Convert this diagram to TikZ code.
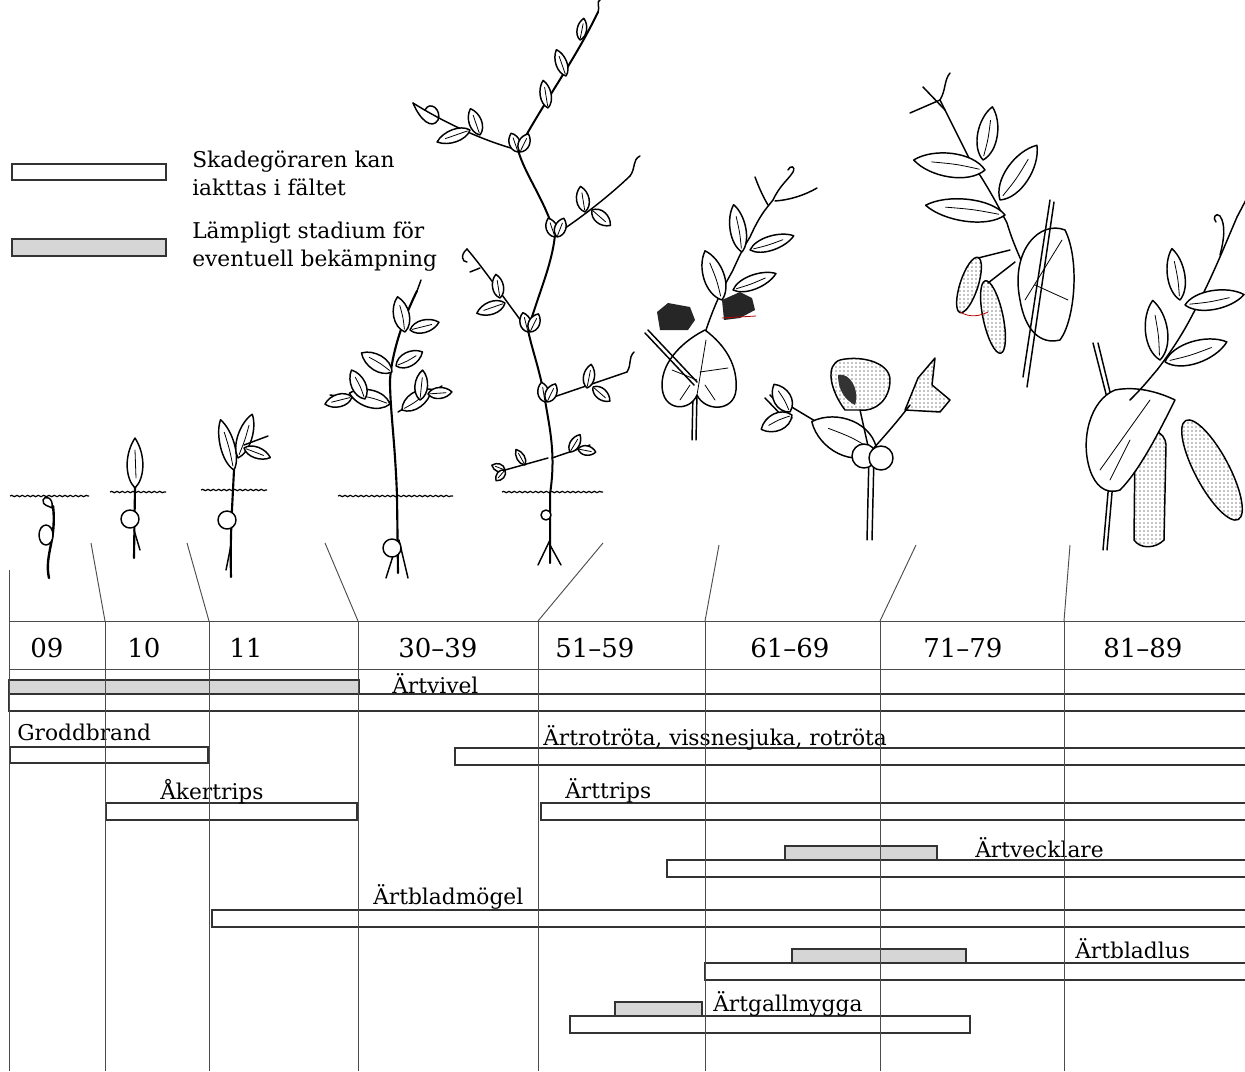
\documentclass[tikz,border=0pt]{standalone}
\usepackage{fontspec}
\setmainfont{DejaVu Serif}
\usetikzlibrary{patterns,decorations.pathmorphing}
\definecolor{barfill}{HTML}{D6D6D6}
\definecolor{ink}{HTML}{333333}
\tikzset{
  plant/.style={line width=1.1pt, line cap=round, line join=round},
  ground/.style={line width=0.9pt, decorate, decoration={snake, amplitude=0.5pt, segment length=4pt}},
  colline/.style={line width=0.7pt, draw=black!70},
  whitebar/.style={draw=ink, line width=1.8pt, fill=white},
  greybar/.style={draw=ink, line width=1.8pt, fill=barfill},
  lbl/.style={anchor=base west, inner sep=0pt, font=\fontsize{16.3}{19}\selectfont},
  stagelbl/.style={anchor=base west, inner sep=0pt, font=\fontsize{19.5}{22}\selectfont},
  pics/leaf/.style={code={
    \draw[plant,fill=white] (0,0) .. controls (0.2,0.55) and (0.75,0.5) .. (1,0) .. controls (0.75,-0.5) and (0.2,-0.55) .. (0,0);
    \draw[plant,line width=0.6pt] (0.08,0) .. controls (0.4,0.06) .. (0.75,0.02);
  }}
}
\newcommand{\lf}[5]{\pic[rotate=#3,xscale=#4,yscale=#5] at (#1,#2) {leaf};}
\begin{document}
\begin{tikzpicture}[x=0.75pt,y=-0.75pt]
\useasboundingbox (0,0) rectangle (1245,1071);
\fill[white] (0,0) rectangle (1245,1071);
\clip (0,0) rectangle (1245,1071);

% ---------------- legend ----------------
\draw[whitebar] (12,164) rectangle (166,180);
\draw[greybar] (12,239) rectangle (166,256);
\node[lbl] (leg1a) at (192,167) {Skadegöraren kan};
\node[lbl] (leg1b) at (192,195) {iakttas i fältet};
\node[lbl] (leg2a) at (192,238) {Lämpligt stadium för};
\node[lbl] (leg2b) at (192,266) {eventuell bekämpning};

% ---------------- plants ----------------
% stage 09
\draw[ground] (10,496) -- (89,496);
\draw[plant] (52,508) .. controls (54,497) and (44,495) .. (43,500) .. controls (42,506) and (50,506) .. (52,508);
\draw[plant,line width=1.8pt] (53,506) .. controls (57,540) and (44,555) .. (49,578);
\draw[plant,fill=white] (46,535) ellipse [x radius=7, y radius=10];
% stage 10
\draw[ground] (110,492) -- (166,492);
\draw[plant,line width=1.6pt] (135,486) -- (134,558);
\draw[plant] (134,530) -- (140,550);
\draw[plant,fill=white] (135,438) .. controls (146,455) and (145,478) .. (135,488) .. controls (125,478) and (124,455) .. (135,438);
\draw[plant,line width=0.6pt] (135,450) -- (136,478);
\draw[plant,fill=white] (130,519) circle [radius=9];
% stage 11
\draw[ground] (201,490) -- (267,490);
\draw[plant,line width=1.6pt] (234,470) .. controls (232,510) and (230,540) .. (231,577);
\draw[plant] (231,545) -- (226,570);
\lf{234}{470}{105}{52}{18}
\lf{238}{458}{72}{46}{18}
\lf{244}{448}{-20}{28}{14}
\draw[plant] (244,445) -- (268,436);
\draw[plant,fill=white] (227,520) circle [radius=9];
% stage 30-39
\draw[ground] (338,496) -- (453,496);
\draw[plant,line width=1.6pt] (398,573) -- (397,496) .. controls (395,440) and (390,410) .. (390,380) .. controls (392,350) and (405,315) .. (417,291);
\draw[plant] (398,540) -- (386,578);
\draw[plant] (399,540) -- (408,578);
\draw[plant,fill=white] (392,548) circle [radius=9];
\draw[plant] (390,402) -- (330,395);
\draw[plant] (398,412) -- (442,386);
\lf{390}{404}{165}{42}{22}
\lf{365}{399}{115}{32}{18}
\lf{352}{397}{195}{28}{16}
\lf{402}{410}{35}{36}{20}
\lf{420}{400}{85}{30}{16}
\lf{428}{394}{5}{24}{14}
\lf{392}{372}{148}{36}{20}
\lf{396}{366}{28}{30}{18}
\lf{405}{332}{102}{36}{20}
\lf{410}{330}{15}{30}{16}
\draw[plant] (417,291) -- (421,280);
% stage 51-59 (tall plant)
\draw[ground] (502,492) -- (603,492);
\draw[plant] (548,458) -- (505,470);
\draw[plant] (552,458) -- (590,445);
\draw[plant] (545,400) -- (627,372);
\draw[plant] (528,330) .. controls (505,300) and (485,270) .. (467,249);
\draw[plant] (555,235) .. controls (585,215) and (610,195) .. (630,176);
\draw[plant] (518,150) .. controls (480,140) and (440,120) .. (413,103);
\draw[plant,line width=1.5pt] (550,563) -- (550,494) .. controls (556,455) and (550,430) .. (545,400) .. controls (540,370) and (532,350) .. (528,330) .. controls (538,295) and (552,265) .. (555,235) .. controls (545,200) and (525,175) .. (518,150) .. controls (545,100) and (575,60) .. (598,12);
\draw[plant] (550,540) -- (538,565);
\draw[plant] (550,545) -- (561,565);
\draw[plant,fill=white] (546,515) circle [radius=5];
\lf{505}{470}{160}{14}{10}
\lf{505}{470}{230}{14}{10}
\lf{525}{465}{120}{18}{10}
\lf{570}{452}{60}{20}{12}
\lf{578}{449}{-10}{18}{12}
\lf{587}{388}{80}{24}{14}
\lf{593}{387}{-40}{22}{14}
\draw[plant] (627,372) .. controls (632,364) and (628,358) .. (634,352);
\lf{505}{303}{200}{30}{16}
\lf{500}{298}{100}{24}{14}
\draw[plant] (467,249) .. controls (460,255) and (462,262) .. (467,262);
\draw[plant] (480,268) -- (470,272);
\lf{585}{212}{100}{26}{16}
\lf{592}{210}{-40}{24}{16}
\draw[plant] (630,176) .. controls (636,168) and (632,160) .. (640,156);
\lf{480}{135}{110}{28}{16}
\lf{470}{130}{200}{35}{16}
\draw[plant] (413,103) .. controls (420,120) and (432,130) .. (438,120) .. controls (442,110) and (430,100) .. (425,110);
\lf{548}{108}{100}{28}{14}
\lf{566}{76}{110}{28}{14}
\lf{580}{40}{80}{22}{12}
\draw[plant] (598,12) .. controls (600,5) and (596,2) .. (600,0);
\lf{545}{402}{100}{20}{14}
\lf{547}{402}{65}{20}{14}
\lf{528}{332}{105}{20}{14}
\lf{530}{332}{65}{20}{14}
\lf{555}{237}{110}{20}{14}
\lf{557}{237}{70}{20}{14}
\lf{518}{152}{110}{20}{14}
\lf{520}{152}{65}{20}{14}
% stage 61-69 upper plant
\draw[plant] (692,440) -- (693,393) .. controls (700,350) and (703,340) .. (707,327) .. controls (720,290) and (728,280) .. (733,270) .. controls (742,250) and (745,245) .. (750,237) .. controls (760,215) and (765,210) .. (773,200);
\draw[plant] (696,440) -- (697,393);
\draw[plant,fill=white] (697,395) .. controls (690,412) and (662,412) .. (662,385) .. controls (662,360) and (685,340) .. (705,330) .. controls (725,345) and (738,365) .. (736,390) .. controls (734,412) and (705,412) .. (697,395);
\draw[plant,line width=0.6pt] (697,395) -- (706,340) (697,380) -- (672,370) (700,372) -- (728,368) (680,400) -- (690,385) (715,400) -- (705,385);
\draw[plant] (648,330) -- (697,382);
\draw[plant] (645,333) -- (694,385);
\lf{722}{300}{109}{52}{26}
\lf{733}{290}{21}{46}{18}
\lf{742}{252}{100}{48}{20}
\lf{750}{250}{18}{46}{18}
\fill[black!85] (657,312) -- (668,303) -- (690,307) -- (695,320) -- (688,330) -- (660,330) -- cycle;
\fill[black!85] (722,300) -- (740,292) -- (752,298) -- (755,310) -- (740,318) -- (724,320) -- cycle;
\draw[red!70!black,line width=0.6pt] (722,318) -- (756,316);
\draw[plant] (773,200) .. controls (780,185) and (788,180) .. (793,172) .. controls (796,166) and (790,165) .. (788,170);
\draw[plant] (775,201) .. controls (790,200) and (805,195) .. (817,188);
\draw[plant] (768,205) .. controls (762,195) and (758,185) .. (755,177);
% stage 61-69 lower plant (flowers)
\draw[plant] (867,540) -- (869,455);
\draw[plant] (872,540) -- (874,455);
\draw[plant] (855,445) -- (780,400);
\draw[plant] (770,395) -- (792,418);
\draw[plant] (765,398) -- (787,421);
\lf{790}{412}{120}{32}{22}
\lf{792}{415}{205}{34}{22}
\lf{877}{452}{155}{72}{45}
\draw[plant] (870,455) -- (860,410);
\draw[plant] (872,450) .. controls (890,430) and (900,418) .. (910,405);
\draw[plant,pattern=dots,pattern color=black] (845,410) .. controls (830,390) and (825,365) .. (840,360) .. controls (860,355) and (890,362) .. (890,380) .. controls (890,400) and (875,412) .. (860,410) -- cycle;
\fill[black!80] (838,375) .. controls (850,372) and (860,390) .. (855,405) .. controls (845,400) and (838,390) .. (838,375);
\draw[plant,pattern=dots,pattern color=black] (905,410) -- (918,378) -- (935,358) -- (932,385) -- (950,400) -- (940,412) -- cycle;
\draw[plant,fill=white] (864,456) circle [radius=12];
\draw[plant,fill=white] (881,458) circle [radius=12];
% stage 71-79 plant
\draw[plant] (1040,300) .. controls (1020,260) and (1012,240) .. (1007,223) .. controls (990,190) and (980,175) .. (970,160) -- (940,100);
\draw[plant] (940,100) .. controls (946,90) and (944,80) .. (950,73);
\draw[plant] (940,100) -- (910,113);
\draw[plant] (945,110) -- (923,87);
\lf{985}{170}{172}{72}{30}
\lf{1005}{215}{173}{80}{28}
\lf{983}{160}{80}{54}{25}
\lf{1000}{200}{56}{66}{30}
\draw[plant] (1010,250) -- (978,258);
\draw[plant] (1015,262) -- (988,283);
\begin{scope}[shift={(969,285)},rotate=-18]
\draw[plant,pattern=dots,pattern color=black] (0,0) ellipse [x radius=9, y radius=29];
\end{scope}
\begin{scope}[shift={(993,317)},rotate=12]
\draw[plant,pattern=dots,pattern color=black] (0,0) ellipse [x radius=10, y radius=37];
\end{scope}
\draw[plant,fill=white] (1020,300) .. controls (1010,250) and (1040,220) .. (1065,230) .. controls (1080,260) and (1075,320) .. (1060,340) .. controls (1040,345) and (1025,330) .. (1020,300);
\draw[plant,line width=0.6pt] (1025,300) -- (1062,240) (1035,285) -- (1068,300);
\draw[plant] (1023,377) -- (1050,200);
\draw[plant] (1027,387) -- (1054,202);
\draw[red!70!black,line width=0.6pt] (960,312) .. controls (970,318) and (980,316) .. (988,312);
% stage 81-89 plant
\draw[plant] (1093,343) -- (1117,437);
\draw[plant] (1098,343) -- (1121,437);
\draw[plant] (1103,550) -- (1110,470);
\draw[plant] (1107,550) -- (1114,470);
\draw[plant,pattern=dots,pattern color=black] (1135,440) .. controls (1148,425) and (1165,430) .. (1166,445) -- (1164,540) .. controls (1155,549) and (1140,549) .. (1134,540) -- cycle;
\begin{scope}[shift={(1212,470)},rotate=28]
\draw[plant,pattern=dots,pattern color=black] (0,0) ellipse [x radius=17, y radius=56];
\end{scope}
\draw[plant,fill=white] (1090,470) .. controls (1080,440) and (1090,400) .. (1115,390) .. controls (1140,385) and (1165,395) .. (1175,400) .. controls (1160,430) and (1140,470) .. (1120,490) .. controls (1105,495) and (1095,485) .. (1090,470);
\draw[plant,line width=0.6pt] (1100,470) -- (1150,400) (1110,480) -- (1130,440);
\draw[plant] (1130,400) .. controls (1145,385) and (1150,378) .. (1157,370) .. controls (1180,340) and (1190,320) .. (1200,300) .. controls (1215,270) and (1225,245) .. (1237,217);
\lf{1160}{360}{97}{60}{28}
\lf{1180}{300}{99}{52}{22}
\lf{1185}{305}{10}{60}{24}
\lf{1165}{362}{18}{65}{28}
\draw[plant] (1220,255) .. controls (1224,240) and (1226,225) .. (1220,216) .. controls (1216,212) and (1212,218) .. (1216,222);
\draw[plant] (1237,217) -- (1248,196);

% ---------------- bars ----------------
\draw[greybar] (9,680) rectangle (359,694);
\draw[whitebar] (9,694) rectangle (1260,711);
\draw[whitebar] (10,747) rectangle (208,763);
\draw[whitebar] (455,748) rectangle (1260,765);
\draw[whitebar] (106,803) rectangle (357,820);
\draw[whitebar] (541,803) rectangle (1260,820);
\draw[greybar] (785,846) rectangle (937,860);
\draw[whitebar] (667,860) rectangle (1260,877);
\draw[whitebar] (212,910) rectangle (1260,927);
\draw[greybar] (792,949) rectangle (966,963);
\draw[whitebar] (705,963) rectangle (1260,980);
\draw[greybar] (615,1002) rectangle (702,1016);
\draw[whitebar] (570,1016) rectangle (970,1033);

% ---------------- labels ----------------
\node[lbl] (vivel) at (392,693) {Ärtvivel};
\node[lbl] (grodd) at (17,740) {Groddbrand};
\node[lbl] (rotrota) at (543,745) {Ärtrotröta, vissnesjuka, rotröta};
\node[lbl] (aker) at (160,799) {Åkertrips};
\node[lbl] (arttrips) at (565,798) {Ärttrips};
\node[lbl] (veckl) at (975,857) {Ärtvecklare};
\node[lbl] (mogel) at (373,904) {Ärtbladmögel};
\node[lbl] (blus) at (1075,958) {Ärtbladlus};
\node[lbl] (gall) at (713,1011) {Ärtgallmygga};

% ---------------- stage header ----------------
\node[stagelbl] (s09) at (30,657) {09};
\node[stagelbl] (s10) at (127,657) {10};
\node[stagelbl] (s11) at (229,657) {11};
\node[stagelbl] (s30) at (398,657) {30–39};
\node[stagelbl] (s51) at (555,657) {51–59};
\node[stagelbl] (s61) at (750,657) {61–69};
\node[stagelbl] (s71) at (923,657) {71–79};
\node[stagelbl] (s81) at (1103,657) {81–89};

\draw[colline] (9,621) -- (1245,621);
\draw[colline] (9,669) -- (1245,669);
\draw[colline] (9,570) -- (9,1071);
\foreach \cx in {105,209,358,538,705,880,1064} {
  \draw[colline] (\cx,621) -- (\cx,1071);
}
% connectors from plants to stage boundaries
\coordinate (p1) at (91,543);   \coordinate (b1) at (105,621);
\coordinate (p2) at (187,543);  \coordinate (b2) at (209,621);
\coordinate (p3) at (325,543);  \coordinate (b3) at (358,621);
\coordinate (p4) at (603,543);  \coordinate (b4) at (538,621);
\coordinate (p5) at (719,545);  \coordinate (b5) at (705,621);
\coordinate (p6) at (916,545);  \coordinate (b6) at (880,621);
\coordinate (p7) at (1070,545); \coordinate (b7) at (1064,621);
\foreach \i in {1,...,7} { \draw[colline] (p\i) -- (b\i); }
\end{tikzpicture}
\end{document}
